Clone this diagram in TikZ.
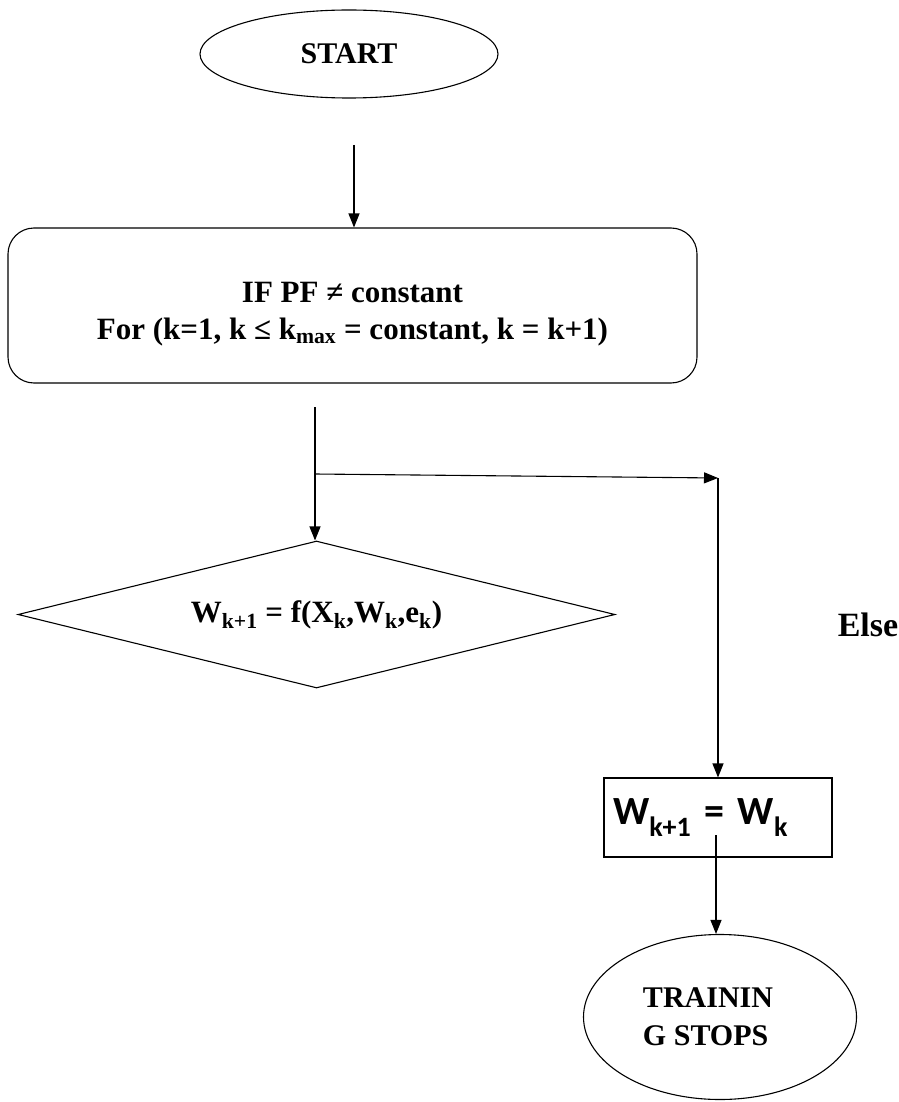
\documentclass[tikz,border=0pt]{standalone}
\usepackage{fontspec}
\setmainfont{Liberation Serif}
\newfontfamily\calib{Carlito}
\usetikzlibrary{shapes.geometric,arrows.meta}
\begin{document}
\begin{tikzpicture}[x=1pt,y=-1pt,
  line width=1.1pt,
  arr/.style={-{Triangle[length=14pt,width=11pt]}},
  term/.style={ellipse,draw,inner sep=0pt,font=\bfseries\fontsize{30}{36}\selectfont},
  proc/.style={draw,inner sep=0pt,align=center,font=\bfseries\fontsize{31}{37}\selectfont},
  dia/.style={diamond,draw,inner sep=0pt,aspect=4.06,font=\bfseries\fontsize{31}{36}\selectfont}
]
\useasboundingbox (0,0) rectangle (898,1102);
\node[term, minimum width=298pt, minimum height=88pt] (start) at (349,54) {START};
\node[proc, rounded corners=26pt, minimum width=689pt, minimum height=155pt] (cond) at (352.5,305.5)
  {\rule{0pt}{38pt}IF PF ≠ constant\\ For (k=1, k ≤ k\textsubscript{max} = constant, k = k+1)};
\node[dia, minimum width=597pt, minimum height=147pt] (upd) at (316.5,614.5)
  {W\textsubscript{k+1} = f(X\textsubscript{k},W\textsubscript{k},e\textsubscript{k})};
\node[font=\bfseries\fontsize{34}{40}\selectfont] (else) at (868,625) {Else};
\node[draw, minimum width=228pt, minimum height=79pt, text width=210pt, inner xsep=9pt, align=left,
  font=\calib\bfseries\fontsize{40}{44}\selectfont] (keep) at (718,817.5)
  {W\textsubscript{k+1} = W\textsubscript{k}};
\node[term, minimum width=273pt, minimum height=165pt, align=left, font=\bfseries\fontsize{30}{38}\selectfont] (stop) at (720,1017)
  {TRAININ\hspace*{24pt}\\G STOPS};
\coordinate (s1) at (354,145);
\draw[arr] (s1) -- (s1 |- cond.north);
\coordinate (c0) at (315,407);
\coordinate (j) at (315,474);
\coordinate (r) at (718,478);
\draw (c0) -- (j);
\draw[arr] (j) -- (j |- upd.north);
\draw[arr] (j) -- (r);
\draw[arr] (r) -- (keep.north);
\coordinate (k0) at (716,835);
\draw[arr] (k0) -- (k0 |- stop.north);
\end{tikzpicture}
\end{document}
